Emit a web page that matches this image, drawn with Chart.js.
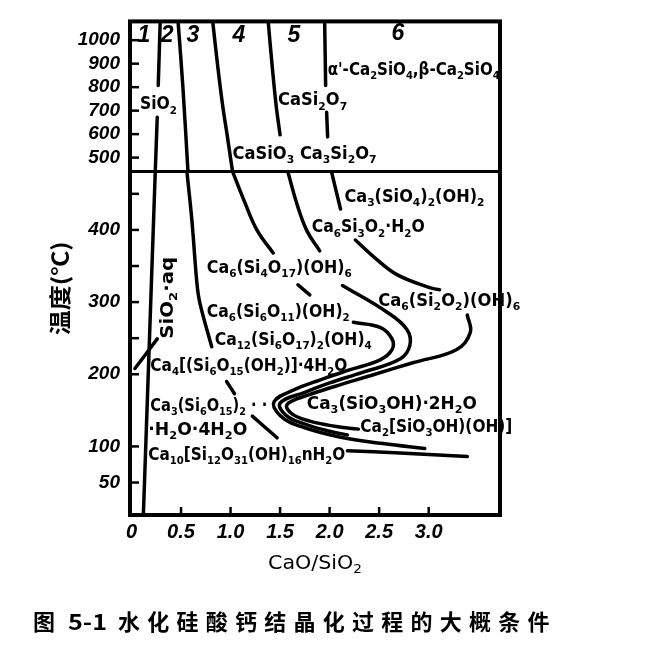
<!DOCTYPE html>
<html><head><meta charset="utf-8">
<script src="https://cdn.jsdelivr.net/npm/chart.js@4.4.1/dist/chart.umd.min.js"></script>
<style>html,body{margin:0;padding:0;background:#fff}#wrap{width:645px;height:654px;position:relative}</style>
</head><body><div id="wrap"><canvas id="c"></canvas></div>
<script>
// ---------- data: [CaO/SiO2 ratio, temperature in °C] ----------
const xTickValues = [0, 0.5, 1.0, 1.5, 2.0, 2.5, 3.0];
const xTickLabels = ['0', '0.5', '1.0', '1.5', '2.0', '2.5', '3.0'];
const xTickMarks = [0.5, 1.0, 1.5, 2.0, 2.5, 3.0];
const upperTempTicks = [500, 600, 700, 800, 900, 1000];
const lowerTempTicks = [50, 100, 200, 250, 300, 350, 400, 450];
const lowerTempLabels = [50, 100, 200, 300, 400];
const regionNumbers = ['1', '2', '3', '4', '5', '6'];

// upper panel (high temperature part of the axis)
const bound12HiA = [[0.29, 1080], [0.27, 807]];
const bound12HiB = [[0.26, 672], [0.24, 441]];
const bound23Hi = [[0.47, 1080], [0.52, 794], [0.57, 441]];
const bound34Hi = [[0.82, 1080], [0.87, 891], [0.92, 723], [0.97, 584], [1.02, 441]];
const bound45Hi = [[1.38, 1080], [1.42, 891], [1.46, 723], [1.50, 597]];
const bound56HiA = [[1.95, 1080], [1.96, 807]];
const bound56HiB = [[1.97, 693], [1.98, 588]];

// lower panel
const bound12Lo = [[0.24, 481], [0.12, 5]];
const leaderLo = [[0.26, 249], [0.035, 208]];
const bound23Lo = [[0.56, 480], [0.61, 413], [0.66, 327], [0.69, 299], [0.81, 238]];
const bound34Lo = [[1.02, 481], [1.15, 436], [1.27, 399], [1.43, 368]];
const bound34LoB = [[1.68, 324], [1.80, 310]];
const bound45Lo = [[1.58, 480], [1.67, 436], [1.77, 399], [1.90, 371]];
const bound56LoA = [[2.02, 480], [2.11, 429]];
const bound56LoB = [[2.26, 386], [2.46, 361], [2.68, 338], [3.01, 320], [3.11, 317]];
const sCurve1 = [[2.24, 272], [2.51, 265], [2.63, 249], [2.63, 234], [2.51, 220], [2.20, 206], [1.90, 192], [1.65, 179], [1.44, 162], [1.50, 143], [1.70, 128], [2.10, 113], [2.54, 104], [2.96, 97]];
const sCurve2 = [[2.13, 323], [2.58, 286], [2.78, 262], [2.81, 240], [2.71, 221], [2.34, 203], [2.00, 188], [1.75, 175], [1.50, 160], [1.56, 143], [1.75, 131], [2.00, 121], [2.18, 116]];
const sCurve3 = [[3.39, 282], [3.42, 258], [3.28, 234], [2.84, 216], [2.41, 198], [2.05, 183], [1.78, 171], [1.57, 158], [1.62, 145], [1.80, 135], [2.05, 128], [2.29, 124]];
const tobermoriteA = [[0.96, 190], [1.04, 173]];
const tobermoriteB = [[1.22, 142], [1.47, 112]];
const lowTempLine = [[2.18, 94], [2.71, 91], [3.39, 86]];

const upperCurves = [bound12HiA, bound12HiB, bound23Hi, bound34Hi, bound45Hi, bound56HiA, bound56HiB];
const lowerCurves = [bound12Lo, leaderLo, bound23Lo, bound34Lo, bound34LoB, bound45Lo, bound56LoA, bound56LoB,
  sCurve1, sCurve2, sCurve3, tobermoriteA, tobermoriteB, lowTempLine];

// ---------- annotation texts (positions in data units) ----------
const upperTexts = [
  {t: 'SiO_{2}', x: 0.085, y: 731, w: 37},
  {t: "α'-Ca_{2}SiO_{4},β-Ca_{2}SiO_{4}", x: 1.98, y: 878, w: 172},
  {t: 'CaSi_{2}O_{7}', x: 1.48, y: 748, w: 69},
  {t: 'CaSiO_{3} Ca_{3}Si_{2}O_{7}', x: 1.02, y: 521, w: 144}
];
const regionNumberPos = [[0.126, 1029], [0.36, 1029], [0.62, 1029], [1.085, 1029], [1.64, 1029], [2.69, 1038]];
const lowerTexts = [
  {t: 'Ca_{3}(SiO_{4})_{2}(OH)_{2}', x: 2.15, y: 447, w: 140},
  {t: 'Ca_{6}Si_{3}O_{2}·H_{2}O', x: 1.82, y: 405, w: 113},
  {t: 'Ca_{6}(Si_{4}O_{17})(OH)_{6}', x: 0.76, y: 349, w: 145},
  {t: 'Ca_{6}(Si_{2}O_{2})(OH)_{6}', x: 2.49, y: 303, w: 142},
  {t: 'Ca_{6}(Si_{6}O_{11})(OH)_{2}', x: 0.76, y: 288, w: 143},
  {t: 'Ca_{12}(Si_{6}O_{17})_{2}(OH)_{4}', x: 0.84, y: 249, w: 157},
  {t: 'Ca_{4}[(Si_{6}O_{15}(OH_{2})]·4H_{2}O', x: 0.19, y: 213, w: 197},
  {t: 'Ca_{3}(Si_{6}O_{15})_{2} · ·', x: 0.19, y: 157, w: 117},
  {t: '·H_{2}O·4H_{2}O', x: 0.17, y: 125, w: 99},
  {t: 'Ca_{10}[Si_{12}O_{31}(OH)_{16}nH_{2}O', x: 0.17, y: 90, w: 197},
  {t: 'Ca_{3}(SiO_{3}OH)·2H_{2}O', x: 1.77, y: 160, w: 170},
  {t: 'Ca_{2}[SiO_{3}OH)(OH)]', x: 2.31, y: 128, w: 152}
];
const rotatedText = {t: 'SiO_{2}·aq', x: 0.36, y: 306, w: 82};
const xTitle = 'CaO/SiO_{2}';
const yTitle = '温度(℃)';
const captionFig = '图';
const captionNum = '5-1';
const captionText = '水化硅酸钙结晶化过程的大概条件';

// ---------- helpers ----------
const LABEL_FONT = "'DejaVu Sans Condensed','DejaVu Sans',sans-serif";
const NUM_FONT = "'Liberation Sans',Arial,sans-serif";
const CJK_FONT = "'Noto Sans CJK SC','Noto Sans',sans-serif";

function runs(s) {
  const out = []; const re = /_\{([^}]*)\}/g; let last = 0, m;
  while ((m = re.exec(s))) {
    if (m.index > last) out.push({s: s.slice(last, m.index), sub: false});
    out.push({s: m[1], sub: true}); last = re.lastIndex;
  }
  if (last < s.length) out.push({s: s.slice(last), sub: false});
  return out;
}
function richText(ctx, str, x, y, o) {
  const size = o.size, subSize = size * 0.66, fam = o.family, wt = o.weight || 'bold', st = o.style || 'normal';
  const parts = runs(str); let w = 0;
  for (const p of parts) { ctx.font = `${st} ${wt} ${p.sub ? subSize : size}px ${fam}`; p.w = ctx.measureText(p.s).width; w += p.w; }
  const sx = o.width ? o.width / w : 1;
  ctx.save(); ctx.translate(x, y); if (o.rotate) ctx.rotate(o.rotate); ctx.scale(sx, 1);
  let cx = o.align === 'center' ? -w / 2 : 0;
  ctx.textBaseline = 'alphabetic'; ctx.fillStyle = '#000';
  const base = size * 0.36;
  for (const p of parts) {
    ctx.font = `${st} ${wt} ${p.sub ? subSize : size}px ${fam}`;
    ctx.fillText(p.s, cx, p.sub ? base + size * 0.24 : base); cx += p.w;
  }
  ctx.restore();
}
function seg(ctx, x1, y1, x2, y2) { ctx.beginPath(); ctx.moveTo(x1, y1); ctx.lineTo(x2, y2); ctx.stroke(); }

const decor = {
  id: 'decor',
  afterDraw(chart) {
    const {ctx, chartArea: ca, scales} = chart;
    const sx = scales.x, su = scales.yU, sl = scales.yL;
    ctx.save();
    ctx.strokeStyle = '#000'; ctx.lineCap = 'butt';
    // inward tick marks
    ctx.lineWidth = 2.5;
    upperTempTicks.forEach(v => { const p = su.getPixelForValue(v); seg(ctx, ca.left, p, ca.left + 9, p); });
    lowerTempTicks.forEach(v => { const p = sl.getPixelForValue(v); seg(ctx, ca.left, p, ca.left + 9, p); });
    xTickMarks.forEach(v => { const p = sx.getPixelForValue(v); seg(ctx, p, ca.bottom, p, ca.bottom - 8); });
    // frame and axis break
    ctx.lineWidth = 4; ctx.strokeRect(ca.left, ca.top, ca.width, ca.height);
    ctx.lineWidth = 3; const by = Math.min(su.bottom, sl.bottom) === sl.bottom ? su.top : su.bottom;
    seg(ctx, ca.left, by, ca.right, by);
    // texts
    upperTexts.forEach(l => richText(ctx, l.t, sx.getPixelForValue(l.x), su.getPixelForValue(l.y), {size: 17, family: LABEL_FONT, width: l.w}));
    lowerTexts.forEach(l => richText(ctx, l.t, sx.getPixelForValue(l.x), sl.getPixelForValue(l.y), {size: 17, family: LABEL_FONT, width: l.w}));
    regionNumbers.forEach((n, i) => richText(ctx, n, sx.getPixelForValue(regionNumberPos[i][0]), su.getPixelForValue(regionNumberPos[i][1]),
      {size: 23, family: NUM_FONT, style: 'italic', align: 'center'}));
    richText(ctx, rotatedText.t, sx.getPixelForValue(rotatedText.x), sl.getPixelForValue(rotatedText.y),
      {size: 17, family: LABEL_FONT, width: rotatedText.w, align: 'center', rotate: -Math.PI / 2});
    // axis titles
    richText(ctx, xTitle, (ca.left + ca.right) / 2 - 0, ca.bottom + 47, {size: 19, family: "'DejaVu Sans',sans-serif", weight: 'normal', width: 94, align: 'center'});
    richText(ctx, yTitle, ca.left - 70, (ca.top + ca.bottom) / 2 + 20, {size: 22, family: CJK_FONT, width: 94, align: 'center', rotate: -Math.PI / 2});
    // caption
    const cy = 622;
    richText(ctx, captionFig, 33, cy, {size: 22, family: CJK_FONT, width: 22});
    richText(ctx, captionNum, 68, cy, {size: 22, family: CJK_FONT, width: 39});
    ctx.font = `bold 22px ${CJK_FONT}`;
    const w0 = ctx.measureText(captionText).width;
    const spacing = (435 - w0) / (captionText.length - 0.5);
    ctx.letterSpacing = spacing + 'px';
    ctx.fillStyle = '#000'; ctx.textBaseline = 'alphabetic';
    ctx.fillText(captionText, 118, cy + 22 * 0.36);
    ctx.letterSpacing = '0px';
    ctx.restore();
  }
};

const toPts = arr => arr.map(([x, y]) => ({x, y}));
const lineStyle = {showLine: true, borderColor: '#000', borderWidth: 3.5, pointRadius: 0, tension: 0.4, fill: false, borderCapStyle: 'round'};
const datasets = [
  ...upperCurves.map(c => Object.assign({data: toPts(c), yAxisID: 'yU'}, lineStyle)),
  ...lowerCurves.map(c => Object.assign({data: toPts(c), yAxisID: 'yL'}, lineStyle))
];

const tickFont = size => ({family: NUM_FONT, size, style: 'italic', weight: 'bold'});

new Chart(document.getElementById('c'), {
  type: 'scatter',
  data: {datasets},
  options: {
    responsive: true, maintainAspectRatio: false, animation: false, events: [],
    layout: {padding: {top: 15, right: 145, bottom: 0, left: 0}},
    plugins: {legend: {display: false}, tooltip: {enabled: false}, title: {display: false}},
    scales: {
      x: {
        type: 'linear', position: 'bottom', min: -0.015, max: 3.72,
        afterBuildTicks: s => { s.ticks = xTickValues.map(v => ({value: v})); },
        afterFit: s => { s.height = 139; },
        grid: {display: false, drawTicks: false}, border: {display: false},
        ticks: {autoSkip: false, maxRotation: 0, padding: 5, color: '#000', font: tickFont(20),
          callback: v => xTickLabels[xTickValues.indexOf(v)] ?? ''}
      },
      yL: {
        type: 'linear', position: 'left', stack: 'temp', stackWeight: 348, min: 5, max: 481,
        afterBuildTicks: s => { s.ticks = lowerTempTicks.map(v => ({value: v})); },
        afterFit: s => { s.width = 130; },
        grid: {display: false, drawTicks: false}, border: {display: false},
        ticks: {autoSkip: false, padding: 10, color: '#000', font: tickFont(19),
          callback: v => lowerTempLabels.includes(v) ? String(v) : ''}
      },
      yU: {
        type: 'linear', position: 'left', stack: 'temp', stackWeight: 152, min: 441, max: 1080,
        afterBuildTicks: s => { s.ticks = upperTempTicks.map(v => ({value: v})); },
        afterFit: s => { s.width = 130; },
        grid: {display: false, drawTicks: false}, border: {display: false},
        ticks: {autoSkip: false, padding: 10, color: '#000', font: tickFont(19), callback: v => String(v)}
      }
    }
  },
  plugins: [decor]
});
</script>
</body></html>
